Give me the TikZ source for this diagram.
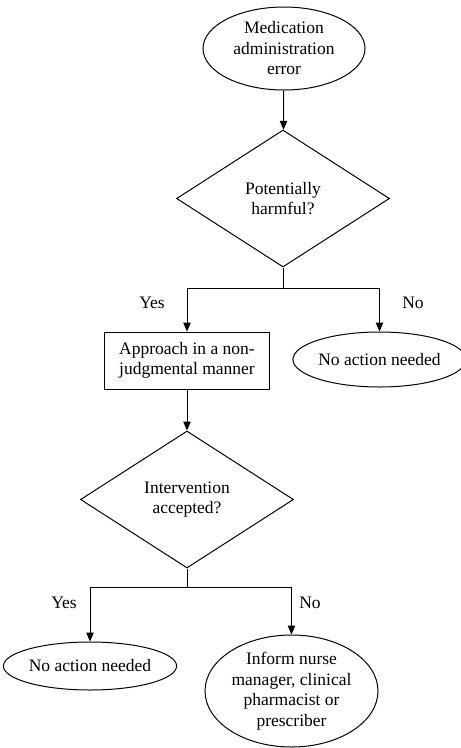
\documentclass[tikz,border=0pt]{standalone}
\usepackage{fontspec}
\setmainfont{Liberation Serif}
\usetikzlibrary{shapes.geometric,arrows.meta}
\begin{document}
\begin{tikzpicture}[x=1pt,y=-1pt,
  every node/.style={font=\fontsize{17.5}{20.5}\selectfont, align=center, inner sep=0pt},
  term/.style={draw, ellipse, line width=1pt},
  decide/.style={draw, diamond, line width=1pt, minimum width=213pt, minimum height=137pt},
  proc/.style={draw, rectangle, line width=1pt, minimum width=165pt, minimum height=57pt},
  arr/.style={line width=1pt, -{Triangle[length=9pt,width=7.5pt]}},
  lbl/.style={font=\fontsize{17.5}{20.5}\selectfont}]
\useasboundingbox (0,0) rectangle (461,748);
\node[term, minimum width=162pt, minimum height=83pt] (start) at (284,48.5) {Medication\\administration\\error};
\node[decide] (d1) at (283,198.5) {Potentially\\harmful?};
\node[proc] (appr) at (187,360.5) {Approach in a non-\\judgmental manner};
\node[term, minimum width=161pt, minimum height=55pt] (na1) at (379.5,359.5) {No action needed};
\node[decide] (d2) at (187,499.5) {Intervention\\accepted?};
\node[term, minimum width=156pt, minimum height=48pt] (na2) at (90,666) {No action needed};
\node[term, minimum width=173pt, minimum height=112pt] (inf) at (291.5,691) {Inform nurse\\manager, clinical\\pharmacist or\\prescriber};
\coordinate (b1) at (283,288);
\coordinate (b2) at (187,587);
\draw[arr] (start) -- (d1);
\draw[line width=1pt] (d1.south) -- (b1);
\draw[arr] (b1) -| (appr.north);
\draw[arr] (b1) -| (na1.north);
\draw[arr] (appr) -- (d2);
\draw[line width=1pt] (d2.south) -- (b2);
\draw[arr] (b2) -| (na2.north);
\draw[arr] (b2) -| (inf.north);
\node[lbl] (y1) at (152,303) {Yes};
\node[lbl] (n1) at (413,303) {No};
\node[lbl] (y2) at (64,603) {Yes};
\node[lbl] (n2) at (310,603) {No};
\end{tikzpicture}
\end{document}
